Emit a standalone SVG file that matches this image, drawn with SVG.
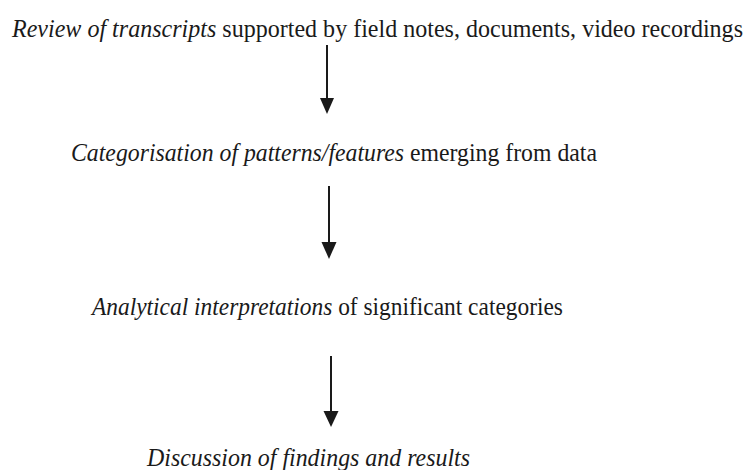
<svg xmlns="http://www.w3.org/2000/svg" width="749" height="470" viewBox="0 0 749 470">
  <style>
    .lbl { font-family: "Liberation Serif", "Times New Roman", serif; font-size: 24px; fill: #1a1a1a; }
    .it { font-style: italic; }
    .conn { stroke: #1a1a1a; stroke-width: 2; fill: none; }
    .head { fill: #1a1a1a; }
  </style>
  <rect width="749" height="470" fill="#ffffff"/>

  <!-- process steps, top to bottom; each line is stretched slightly in height -->
  <g id="review">
    <text class="lbl" transform="translate(12,37) scale(1,1.08)" x="0" y="0" textLength="731" lengthAdjust="spacingAndGlyphs"><tspan class="it">Review of transcripts</tspan> supported by field notes, documents, video recordings</text>
  </g>
  <g id="categorisation">
    <text class="lbl" transform="translate(71,161) scale(1,1.08)" x="0" y="0" textLength="526" lengthAdjust="spacingAndGlyphs"><tspan class="it">Categorisation of patterns/features</tspan> emerging from data</text>
  </g>
  <g id="interpretation">
    <text class="lbl" transform="translate(92,315) scale(1,1.08)" x="0" y="0" textLength="471" lengthAdjust="spacingAndGlyphs"><tspan class="it">Analytical interpretations</tspan> of significant categories</text>
  </g>
  <g id="discussion">
    <text class="lbl it" transform="translate(147,466) scale(1,1.08)" x="0" y="0" textLength="323" lengthAdjust="spacingAndGlyphs">Discussion of findings and results</text>
  </g>

  <!-- downward arrows between steps -->
  <g id="connectors">
    <line class="conn" x1="327" y1="45" x2="327" y2="100"/>
    <path class="head" d="M320,98 L334,98 L327,114 Z"/>
    <line class="conn" x1="329" y1="186" x2="329" y2="244"/>
    <path class="head" d="M321.5,242 L336.5,242 L329,259 Z"/>
    <line class="conn" x1="331" y1="356" x2="331" y2="413"/>
    <path class="head" d="M323.5,411 L338.5,411 L331,427 Z"/>
  </g>
</svg>
